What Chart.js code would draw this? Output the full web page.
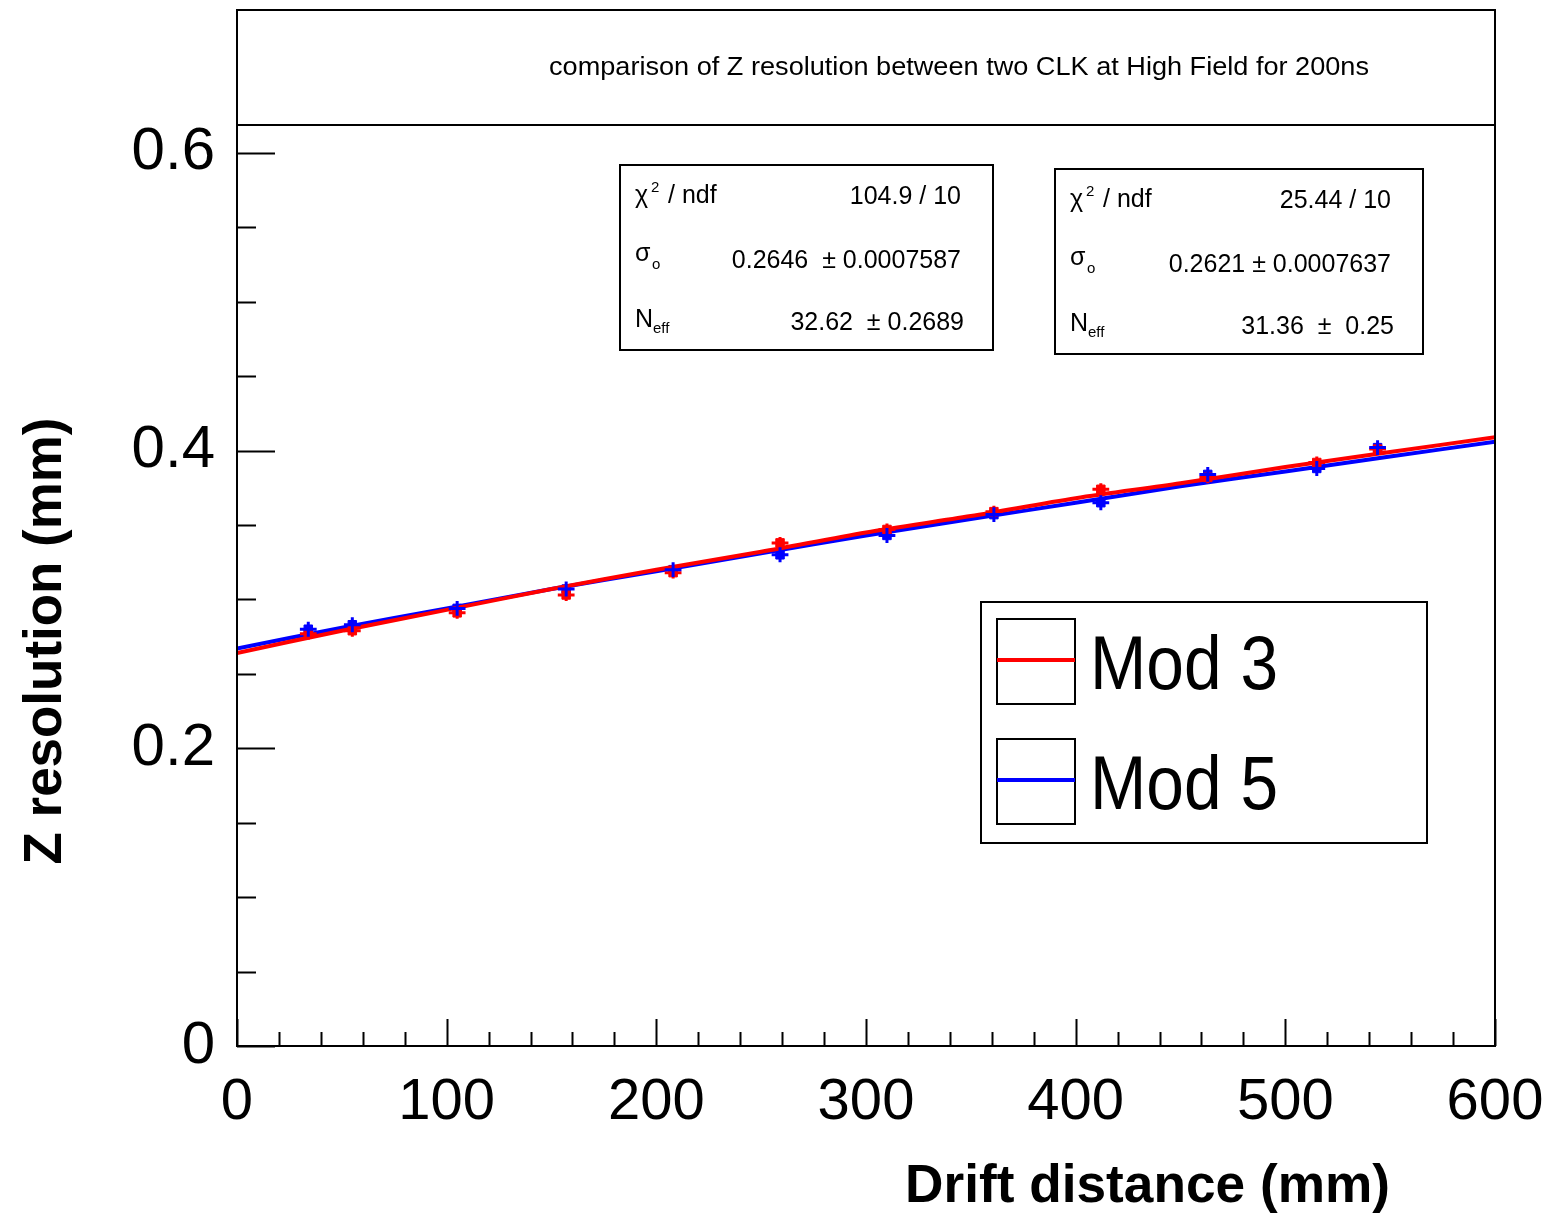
<!DOCTYPE html>
<html>
<head>
<meta charset="utf-8">
<script src="https://cdn.jsdelivr.net/npm/chart.js@4"></script>
<style>
  body { margin: 0; background: #fff; }
  #wrap { width: 1549px; height: 1213px; }
</style>
</head>
<body>
<div id="wrap"><canvas id="resChart" width="1549" height="1213"></canvas></div>
<script>
// measured points (drift distance in mm, resolution in mm)
const driftX = [34, 55, 105, 157, 208, 259, 310, 361, 412, 463, 515, 544];
const mod3Res = [0.277, 0.279, 0.291, 0.303, 0.318, 0.338, 0.347, 0.359, 0.374, 0.382, 0.392, 0.401];
const mod5Res = [0.280, 0.283, 0.294, 0.307, 0.320, 0.330, 0.343, 0.357, 0.365, 0.384, 0.388, 0.402];
const mod3Err = [0.004, 0.004, 0.004, 0.004, 0.004, 0.004, 0.004, 0.004, 0.004, 0.004, 0.004, 0.004];
const mod5Err = [0.005, 0.005, 0.005, 0.005, 0.005, 0.005, 0.005, 0.005, 0.005, 0.005, 0.005, 0.005];
const xErr = 4;

// fit curves
const fitX = [0, 50, 100, 150, 200, 250, 300, 350, 400, 450, 500, 550, 600];
const mod3Fit = [0.264, 0.279, 0.293, 0.307, 0.320, 0.332, 0.345, 0.356, 0.368, 0.378, 0.389, 0.399, 0.409];
const mod5Fit = [0.267, 0.281, 0.294, 0.307, 0.319, 0.331, 0.343, 0.354, 0.365, 0.376, 0.386, 0.396, 0.406];

const yMajor = [0, 0.2, 0.4, 0.6];
const xMajor = [0, 100, 200, 300, 400, 500, 600];

const titleText = 'comparison of Z resolution between two CLK at High Field for 200ns';
const stats3 = { chi: '104.9 / 10', sigma: '0.2646  \u00b1 0.0007587', neff: '32.62  \u00b1 0.2689' };
const stats5 = { chi: '25.44 / 10', sigma: '0.2621 \u00b1 0.0007637', neff: '31.36  \u00b1  0.25' };

const RED = '#ff0000';
const BLUE = '#0000ff';
const FONT = '"Liberation Sans", Arial, Helvetica, sans-serif';

function pts(xs, ys) {
  return xs.map((x, i) => ({ x: x, y: ys[i] }));
}

function isMajor(v, step) {
  const r = v / step;
  return Math.abs(r - Math.round(r)) < 1e-6;
}

// draw text squeezed/stretched to a given width
function fitText(ctx, txt, x, y, font, width, align) {
  ctx.save();
  ctx.font = font;
  const w = ctx.measureText(txt).width;
  const s = width ? width / w : 1;
  ctx.translate(x, y);
  ctx.scale(s, 1);
  ctx.textAlign = align || 'left';
  ctx.textBaseline = 'alphabetic';
  ctx.fillStyle = '#000';
  ctx.fillText(txt, 0, 0);
  ctx.restore();
}

function statBox(ctx, b, st) {
  ctx.strokeStyle = '#000';
  ctx.lineWidth = 2;
  ctx.strokeRect(b.x, b.y, b.w, b.h);
  const f = '25px ' + FONT;
  const fs = '15px ' + FONT;
  const lx = b.x + 15;
  const rx = b.x + b.w - 32;
  // chi2 / ndf
  fitText(ctx, '\u03c7', lx, b.y + 38, f);
  fitText(ctx, '2', lx + 16, b.y + 27, fs);
  fitText(ctx, '/ ndf', lx + 33, b.y + 38, f);
  fitText(ctx, st.chi, rx, b.y + 39, f, null, 'right');
  // sigma0
  fitText(ctx, '\u03c3', lx, b.y + 96, f);
  fitText(ctx, 'o', lx + 17, b.y + 104, fs);
  fitText(ctx, st.sigma, rx, b.y + 103, f, null, 'right');
  // Neff
  fitText(ctx, 'N', lx, b.y + 162, f);
  fitText(ctx, 'eff', lx + 18, b.y + 168, fs);
  fitText(ctx, st.neff, rx + 3, b.y + 165, f, null, 'right');
}

const rootPlugin = {
  id: 'rootStyle',
  afterDatasetsDraw(chart) {
    const ctx = chart.ctx;
    const xs = chart.scales.x;
    const ys = chart.scales.y;
    // error bars
    const series = [[mod3Res, mod3Err, RED], [mod5Res, mod5Err, BLUE]];
    ctx.save();
    series.forEach(([vals, errs, col]) => {
      ctx.strokeStyle = col;
      ctx.lineWidth = 3;
      vals.forEach((v, i) => {
        const px = xs.getPixelForValue(driftX[i]);
        const py = ys.getPixelForValue(v);
        ctx.beginPath();
        ctx.moveTo(px, ys.getPixelForValue(v - errs[i]));
        ctx.lineTo(px, ys.getPixelForValue(v + errs[i]));
        ctx.moveTo(xs.getPixelForValue(driftX[i] - xErr), py);
        ctx.lineTo(xs.getPixelForValue(driftX[i] + xErr), py);
        ctx.stroke();
      });
    });
    ctx.restore();
  },
  afterDraw(chart) {
    const ctx = chart.ctx;
    const a = chart.chartArea;
    const xs = chart.scales.x;
    const ys = chart.scales.y;
    ctx.save();
    ctx.strokeStyle = '#000';
    ctx.lineWidth = 2;
    // ticks inside the frame
    ctx.beginPath();
    ys.ticks.forEach(t => {
      if (t.value > 0.65) return;
      const py = Math.round(ys.getPixelForValue(t.value)) + 0.5;
      const len = isMajor(t.value, 0.2) ? 38 : 19;
      ctx.moveTo(a.left, py);
      ctx.lineTo(a.left + len, py);
    });
    xs.ticks.forEach(t => {
      const px = Math.round(xs.getPixelForValue(t.value)) + 0.5;
      const len = isMajor(t.value, 100) ? 27 : 14;
      ctx.moveTo(px, a.bottom);
      ctx.lineTo(px, a.bottom - len);
    });
    ctx.stroke();

    // title pad
    ctx.fillStyle = '#fff';
    ctx.fillRect(a.left, a.top, a.right - a.left, 115);
    ctx.strokeRect(a.left, a.top, a.right - a.left, 115);
    fitText(ctx, titleText, 959, 75, '26px ' + FONT, 820, 'center');

    // frame
    ctx.strokeRect(a.left, a.top, a.right - a.left, a.bottom - a.top);

    // fit statistics boxes
    ctx.fillStyle = '#fff';
    ctx.fillRect(620, 165, 373, 185);
    statBox(ctx, { x: 620, y: 165, w: 373, h: 185 }, stats3);
    ctx.fillStyle = '#fff';
    ctx.fillRect(1055, 169, 368, 185);
    statBox(ctx, { x: 1055, y: 169, w: 368, h: 185 }, stats5);

    // legend
    ctx.fillStyle = '#fff';
    ctx.fillRect(981, 602, 446, 241);
    ctx.strokeRect(981, 602, 446, 241);
    const entries = [[chart.data.datasets[1].label, RED, 619], [chart.data.datasets[3].label, BLUE, 739]];
    entries.forEach(([lab, col, top]) => {
      ctx.strokeStyle = '#000';
      ctx.lineWidth = 2;
      ctx.strokeRect(997, top, 78, 85);
      ctx.strokeStyle = col;
      ctx.lineWidth = 4;
      ctx.beginPath();
      ctx.moveTo(997, top + 41);
      ctx.lineTo(1075, top + 41);
      ctx.stroke();
      fitText(ctx, lab, 1090, top + 70, '76px ' + FONT, 188, 'left');
    });

    // axis titles
    fitText(ctx, 'Drift distance (mm)', 1390, 1202, 'bold 53px ' + FONT, 485, 'right');
    ctx.save();
    ctx.translate(61, 641);
    ctx.rotate(-Math.PI / 2);
    fitText(ctx, 'Z resolution (mm)', 0, 0, 'bold 53px ' + FONT, 447, 'center');
    ctx.restore();
    ctx.restore();
  }
};

new Chart(document.getElementById('resChart').getContext('2d'), {
  type: 'scatter',
  data: {
    datasets: [
      {
        label: 'Mod 3 data',
        data: pts(driftX, mod3Res),
        backgroundColor: RED,
        borderColor: RED,
        pointStyle: 'rect',
        pointRadius: 6,
        showLine: false
      },
      {
        label: 'Mod 3',
        data: pts(fitX, mod3Fit),
        borderColor: RED,
        borderWidth: 4,
        pointRadius: 0,
        showLine: true,
        tension: 0.3,
        fill: false
      },
      {
        label: 'Mod 5 data',
        data: pts(driftX, mod5Res),
        backgroundColor: BLUE,
        borderColor: BLUE,
        pointStyle: 'rect',
        pointRadius: 6,
        showLine: false
      },
      {
        label: 'Mod 5',
        data: pts(fitX, mod5Fit),
        borderColor: BLUE,
        borderWidth: 4,
        pointRadius: 0,
        showLine: true,
        tension: 0.3,
        fill: false
      }
    ]
  },
  options: {
    responsive: false,
    animation: false,
    layout: { padding: { top: 10, right: 54, left: 0, bottom: 0 } },
    plugins: {
      legend: { display: false },
      tooltip: { enabled: false }
    },
    scales: {
      x: {
        type: 'linear',
        min: 0,
        max: 600,
        afterFit(s) { s.height = 167; s.paddingLeft = 0; s.paddingRight = 0; },
        grid: { display: false, drawTicks: false },
        border: { display: false },
        ticks: {
          stepSize: 20,
          autoSkip: false,
          maxRotation: 0,
          padding: 22,
          color: '#000',
          font: { family: FONT, size: 58 },
          callback: v => (xMajor.includes(v) ? String(v) : '')
        }
      },
      y: {
        type: 'linear',
        min: 0,
        max: 0.696,
        afterFit(s) { s.width = 237; s.paddingTop = 0; s.paddingBottom = 0; },
        grid: { display: false, drawTicks: false },
        border: { display: false },
        ticks: {
          stepSize: 0.05,
          autoSkip: false,
          padding: 22,
          color: '#000',
          font: { family: FONT, size: 60 },
          callback: v => {
            if (v > 0.65 || !isMajor(v, 0.2)) return '';
            return v === 0 ? '0' : v.toFixed(1);
          }
        }
      }
    }
  },
  plugins: [rootPlugin]
});
</script>
</body>
</html>
